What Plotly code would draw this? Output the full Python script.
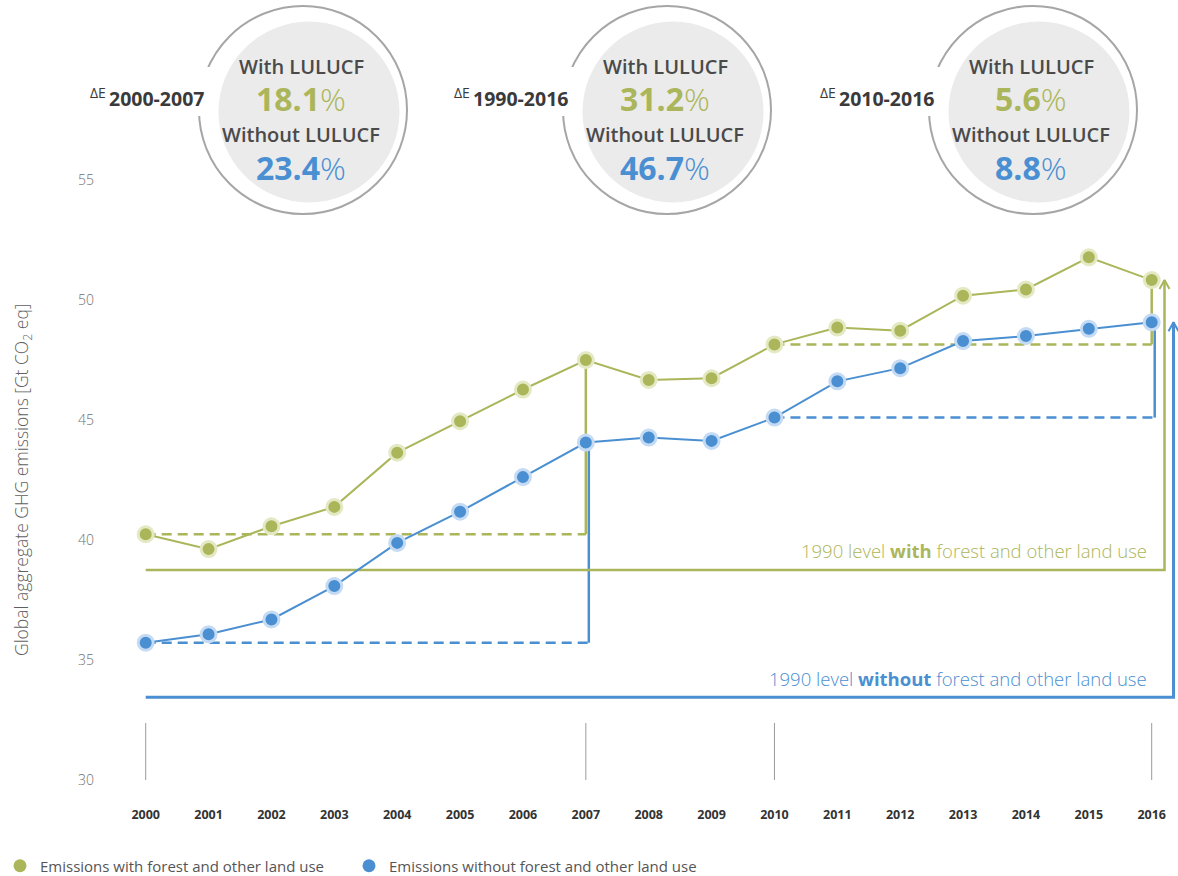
import plotly.graph_objects as go

# ---------------- data ----------------
years = list(range(2000, 2017))
with_lulucf = [40.24, 39.62, 40.57, 41.38, 43.64, 44.95, 46.27, 47.50, 46.67, 46.74,
               48.15, 48.85, 48.72, 50.18, 50.44, 51.78, 50.83]
without_lulucf = [35.72, 36.07, 36.69, 38.08, 39.88, 41.18, 42.62, 44.06, 44.27, 44.13,
                  45.10, 46.61, 47.16, 48.29, 48.50, 48.80, 49.07]
level_1990_with = 38.75
level_1990_without = 33.45
period_marks = [2000, 2007, 2010, 2016]
period_labels = ["2000-2007", "1990-2016", "2010-2016"]
delta_with = ["18.1", "31.2", "5.6"]
delta_without = ["23.4", "46.7", "8.8"]
ytick_vals = [30, 35, 40, 45, 50, 55]
xtick_vals = years

# ---------------- styling / geometry ----------------
GREEN = "#abb65a"
GREEN_HALO = "#e4e9c4"
BLUE = "#4a8fd2"
BLUE_HALO = "#c4dbf3"
FONT = "Open Sans"
W, H = 1178, 876
ML, MR, MT = 100, 0, 0
PH = 800
MB = H - MT - PH
PW = W - ML - MR
X0_PX, PX_PER_YEAR = 145.7, 62.875      # pixel of first year, pixels per year
Y30_PX, PX_PER_UNIT = 780.0, 24.0        # pixel of value 30, pixels per Gt

x_range = [years[0] - (X0_PX - ML) / PX_PER_YEAR, years[0] + (W - MR - X0_PX) / PX_PER_YEAR]
y_range = [30 - (MT + PH - Y30_PX) / PX_PER_UNIT, 30 + (Y30_PX - MT) / PX_PER_UNIT]


def px2x(px):
    return years[0] + (px - X0_PX) / PX_PER_YEAR


def py2y(py):
    return 30 + (Y30_PX - py) / PX_PER_UNIT


def xp(px):
    return (px - ML) / PW


def yp(py):
    return 1 - (py - MT) / PH


def idx(year):
    return years.index(year)


fig = go.Figure()

# ---- period connectors (dashed horizontals + solid verticals) ----
dash_style = "10px,6px"
off = 3 / PX_PER_YEAR
conn = [
    (period_marks[0], period_marks[1], with_lulucf, GREEN, 0.0),
    (period_marks[0], period_marks[1], without_lulucf, BLUE, off),
    (period_marks[2], period_marks[3], with_lulucf, GREEN, 0.0),
    (period_marks[2], period_marks[3], without_lulucf, BLUE, off),
]
for a, b, series, col, o in conn:
    base = series[idx(a)]
    fig.add_trace(go.Scatter(x=[a, b + o], y=[base, base], mode="lines",
                             line=dict(color=col, width=2.5, dash=dash_style),
                             showlegend=False, hoverinfo="skip"))
    fig.add_trace(go.Scatter(x=[b + o, b + o], y=[base, series[idx(b)]], mode="lines",
                             line=dict(color=col, width=2.5),
                             showlegend=False, hoverinfo="skip"))

# ---- 1990 level lines with arrows up to the 2016 values ----
xg_arrow = px2x(1164.5)
xb_arrow = px2x(1173.5)
dx_head = 5 / PX_PER_YEAR
dy_head = 9 / PX_PER_UNIT
for xa, lvl, top, col, lw in [(xg_arrow, level_1990_with, with_lulucf[-1], GREEN, 2.5),
                              (xb_arrow, level_1990_without, without_lulucf[-1], BLUE, 3)]:
    fig.add_trace(go.Scatter(x=[years[0], xa, xa], y=[lvl, lvl, top], mode="lines",
                             line=dict(color=col, width=lw),
                             showlegend=False, hoverinfo="skip"))
    fig.add_trace(go.Scatter(x=[xa - dx_head, xa, xa + dx_head],
                             y=[top - dy_head, top, top - dy_head], mode="lines",
                             line=dict(color=col, width=2),
                             showlegend=False, hoverinfo="skip"))

# ---- series ----
for series, col, halo in [(with_lulucf, GREEN, GREEN_HALO), (without_lulucf, BLUE, BLUE_HALO)]:
    fig.add_trace(go.Scatter(x=years, y=series, mode="lines",
                             line=dict(color=col, width=2), showlegend=False))
    fig.add_trace(go.Scatter(x=years, y=series, mode="markers",
                             marker=dict(color=col, size=15, line=dict(color=halo, width=3)),
                             showlegend=False))

# legend entries
fig.add_trace(go.Scatter(x=[None], y=[None], mode="markers", name="Emissions with forest and other land use",
                         marker=dict(color=GREEN, size=13)))
fig.add_trace(go.Scatter(x=[None], y=[None], mode="markers", name="Emissions without forest and other land use",
                         marker=dict(color=BLUE, size=13)))

shapes = []
annotations = []

# bottom period tick lines
for yr in period_marks:
    shapes.append(dict(type="line", xref="x", yref="y", x0=yr, x1=yr,
                       y0=30, y1=py2y(723), line=dict(color="#9a9a9a", width=1)))

# y-axis title (placed as rotated text)
annotations.append(dict(x=xp(22), y=yp(480), xref="paper", yref="paper",
                        xanchor="center", yanchor="middle", textangle=-90, showarrow=False,
                        text="Global aggregate GHG emissions [Gt CO<sub>2</sub> eq]",
                        font=dict(family=FONT, size=17.5, color="#606060", weight=300)))

# 1990 level labels
annotations.append(dict(x=px2x(1149), y=py2y(550), xref="x", yref="y", xanchor="right",
                        yanchor="middle", showarrow=False,
                        text="1990 level <b>with</b> forest and other land use",
                        font=dict(family=FONT, size=18.5, color=GREEN, weight=300)))
annotations.append(dict(x=px2x(1149), y=py2y(678), xref="x", yref="y", xanchor="right",
                        yanchor="middle", showarrow=False,
                        text="1990 level <b>without</b> forest and other land use",
                        font=dict(family=FONT, size=18.5, color=BLUE, weight=300)))

# ---- circles with percentage changes ----
centers = [303, 667, 1033]
CY, R_RING, R_IN = 110, 104, 90.5
for cx, plab, dw, dwo in zip(centers, period_labels, delta_with, delta_without):
    shapes.append(dict(type="circle", xref="paper", yref="paper", layer="above",
                       x0=xp(cx - R_RING), x1=xp(cx + R_RING),
                       y0=yp(CY + R_RING), y1=yp(CY - R_RING),
                       line=dict(color="#a6a6a6", width=2), fillcolor="rgba(0,0,0,0)"))
    shapes.append(dict(type="rect", xref="paper", yref="paper", layer="above",
                       x0=xp(cx - 112), x1=xp(cx - 88), y0=yp(116), y1=yp(67),
                       line=dict(width=0), fillcolor="white"))
    icx, icy = cx + 6, CY + 2
    shapes.append(dict(type="circle", xref="paper", yref="paper", layer="above",
                       x0=xp(icx - R_IN), x1=xp(icx + R_IN),
                       y0=yp(icy + R_IN), y1=yp(icy - R_IN),
                       line=dict(width=0), fillcolor="#ebebeb"))
    tx = cx - 2
    common = dict(xref="paper", yref="paper", showarrow=False, xanchor="center", yanchor="middle")
    annotations += [
        dict(x=xp(tx), y=yp(66), text="With LULUCF",
             font=dict(family=FONT, size=20, color="#4a4a4a", weight=600), **common),
        dict(x=xp(tx), y=yp(98), text=f"<b>{dw}</b><span style='font-weight:300'>%</span>",
             font=dict(family=FONT, size=32, color=GREEN), **common),
        dict(x=xp(tx), y=yp(135), text="Without LULUCF",
             font=dict(family=FONT, size=20, color="#4a4a4a", weight=600), **common),
        dict(x=xp(tx), y=yp(168), text=f"<b>{dwo}</b><span style='font-weight:300'>%</span>",
             font=dict(family=FONT, size=32, color=BLUE), **common),
        dict(x=xp(cx - 195), y=yp(93), xref="paper", yref="paper", xanchor="right",
             yanchor="middle", showarrow=False, text="ΔE",
             font=dict(family=FONT, size=14, color="#3a3a3a")),
        dict(x=xp(cx - 97), y=yp(98), xref="paper", yref="paper", xanchor="right",
             yanchor="middle", showarrow=False, text=f"<b>{plab}</b>",
             font=dict(family=FONT, size=19.5, color="#3a3a3a")),
    ]

fig.update_layout(
    width=W, height=H,
    margin=dict(l=ML, r=MR, t=MT, b=MB, pad=0, autoexpand=False),
    paper_bgcolor="white", plot_bgcolor="white",
    font=dict(family=FONT),
    shapes=shapes, annotations=annotations,
    showlegend=True,
    legend=dict(orientation="h", x=xp(0), xanchor="left", y=yp(866), yanchor="middle",
                font=dict(family=FONT, size=15, color="#555555"),
                entrywidth=304, entrywidthmode="pixels",
                bgcolor="rgba(0,0,0,0)"),
    xaxis=dict(range=x_range, showgrid=False, zeroline=False, showline=False,
               ticks="", tickmode="array", tickvals=xtick_vals,
               ticktext=[str(y) for y in xtick_vals],
               tickfont=dict(family=FONT, size=12.5, color="#333333", weight=700),
               ticklabelstandoff=5, automargin=False, fixedrange=True),
    yaxis=dict(range=y_range, showgrid=False, zeroline=False, showline=False,
               ticks="", tickmode="array", tickvals=ytick_vals,
               tickfont=dict(family=FONT, size=14, color="#707070", weight=300),
               ticklabelstandoff=5, automargin=False, fixedrange=True),
)

fig.write_html("out.html", config={"displayModeBar": False},
               post_script="document.body.style.margin='0';")
